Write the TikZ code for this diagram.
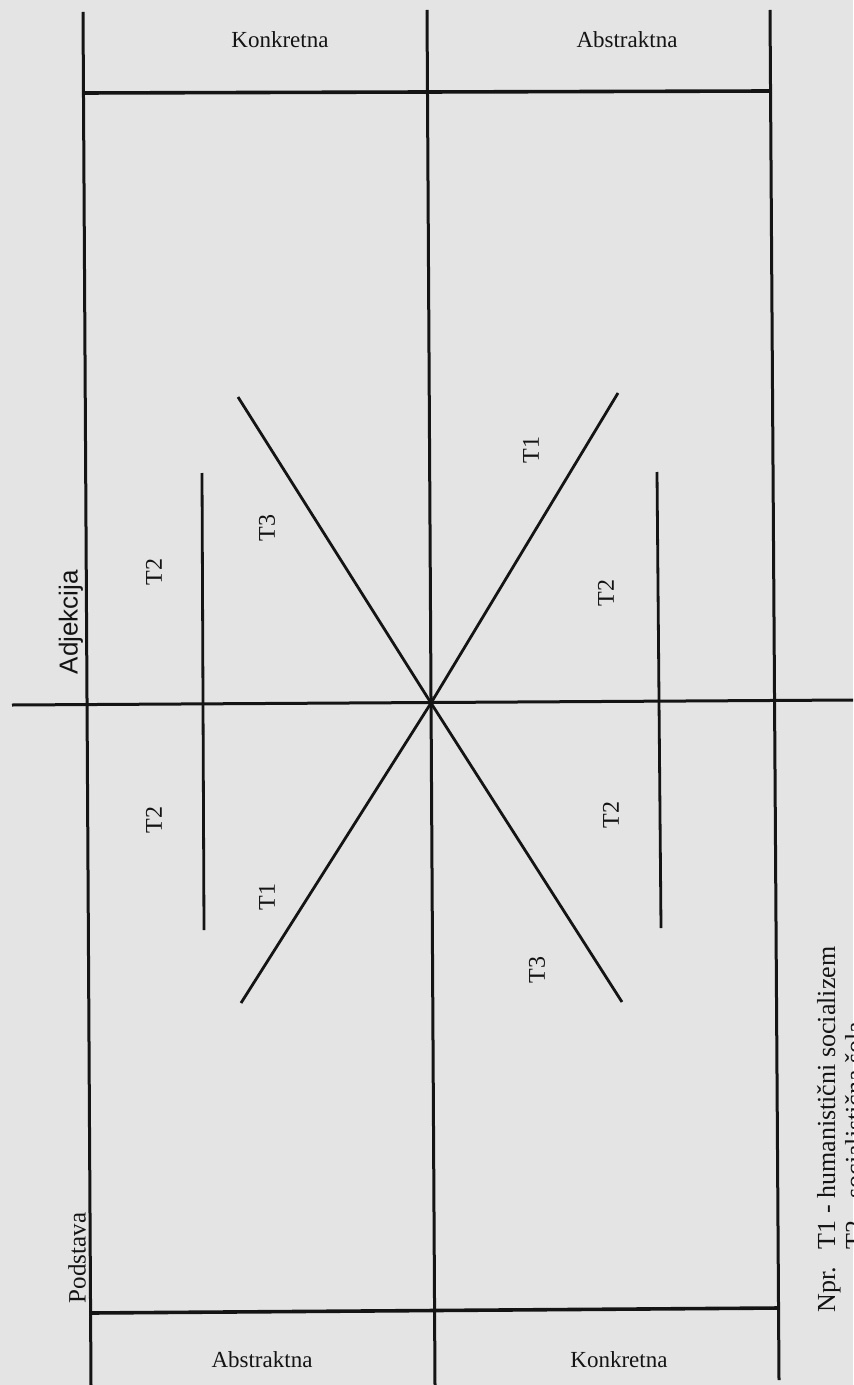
\documentclass[tikz,border=0pt]{standalone}
\usepackage{fontspec}
\setmainfont{Liberation Serif}
\newfontfamily\adjfont{Liberation Sans}
\usetikzlibrary{positioning}
\definecolor{paper}{RGB}{228,228,228}
\definecolor{ink}{RGB}{20,20,20}

\begin{document}
\begin{tikzpicture}[x=0.5pt, y=-0.5pt,
    axis/.style={draw=ink, line width=1.5pt},
    rule/.style={draw=ink, line width=1.8pt},
    ray/.style={draw=ink, line width=1.4pt},
    head/.style={text=ink, inner sep=0pt, font=\fontsize{11.5}{13}\selectfont},
    pole/.style={text=ink, inner sep=0pt, rotate=90},
    tag/.style={text=ink, inner sep=0pt, rotate=90, font=\fontsize{12}{14}\selectfont}
]
    % Paper
    \fill[paper] (0,0) rectangle (853,1385);
    \useasboundingbox (0,0) rectangle (853,1385);

    % Frame points
    \coordinate (lt) at (83,12);
    \coordinate (lb) at (91,1385);
    \coordinate (mt) at (427,10);
    \coordinate (mb) at (435,1385);
    \coordinate (rt) at (770,10);
    \coordinate (rb) at (779,1380);
    \coordinate (c) at (431,703);

    % Verticals
    \draw[axis] (lt) -- (lb);
    \draw[axis] (mt) -- (mb);
    \draw[axis] (rt) -- (rb);

    % Horizontals
    \draw[rule] (83,93) -- (770,91);
    \draw[axis] (12,705) -- (853,700);
    \draw[rule] (90,1313) -- (779,1308);

    % Short T2 lines
    \draw[ray] (202,473) -- (204,930);
    \draw[ray] (657,472) -- (661,928);

    % Diagonals through the centre
    \coordinate (t3a) at (238,397);
    \coordinate (t1a) at (618,393);
    \coordinate (t1b) at (241,1003);
    \coordinate (t3b) at (622,1002);
    \draw[ray] (t3a) -- (c) -- (t3b);
    \draw[ray] (t1a) -- (c) -- (t1b);

    % Headings
    \node[head] (konk1) at (280,40) {Konkretna};
    \node[head] (abst1) at (627,40) {Abstraktna};
    \node[head] (abst2) at (262,1360) {Abstraktna};
    \node[head] (konk2) at (619,1360) {Konkretna};

    % Side labels
    \node[pole, font=\adjfont\fontsize{13}{15}\selectfont] (adj) at (71,622) {Adjekcija};
    \node[pole, font=\fontsize{12.5}{15}\selectfont] (pod) at (77,1258) {Podstava};

    % T labels
    \node[tag] (t2ul) at (154,572) {T2};
    \node[tag] (t3u) at (267,528) {T3};
    \node[tag] (t1u) at (531,450) {T1};
    \node[tag] (t2ur) at (606,593) {T2};
    \node[tag] (t2ll) at (154,820) {T2};
    \node[tag] (t1l) at (267,897) {T1};
    \node[tag] (t2lr) at (611,815) {T2};
    \node[tag] (t3l) at (537,970) {T3};

    % Example
    \node[pole, anchor=north west, font=\fontsize{13}{14}\selectfont] (npr) at (815,1313)
        {\begin{tabular}{@{}l@{\hspace{9pt}}l@{}}
         Npr. & T1 - humanistični socializem\\
              & T2 - socialistična šola
         \end{tabular}};
\end{tikzpicture}
\end{document}
